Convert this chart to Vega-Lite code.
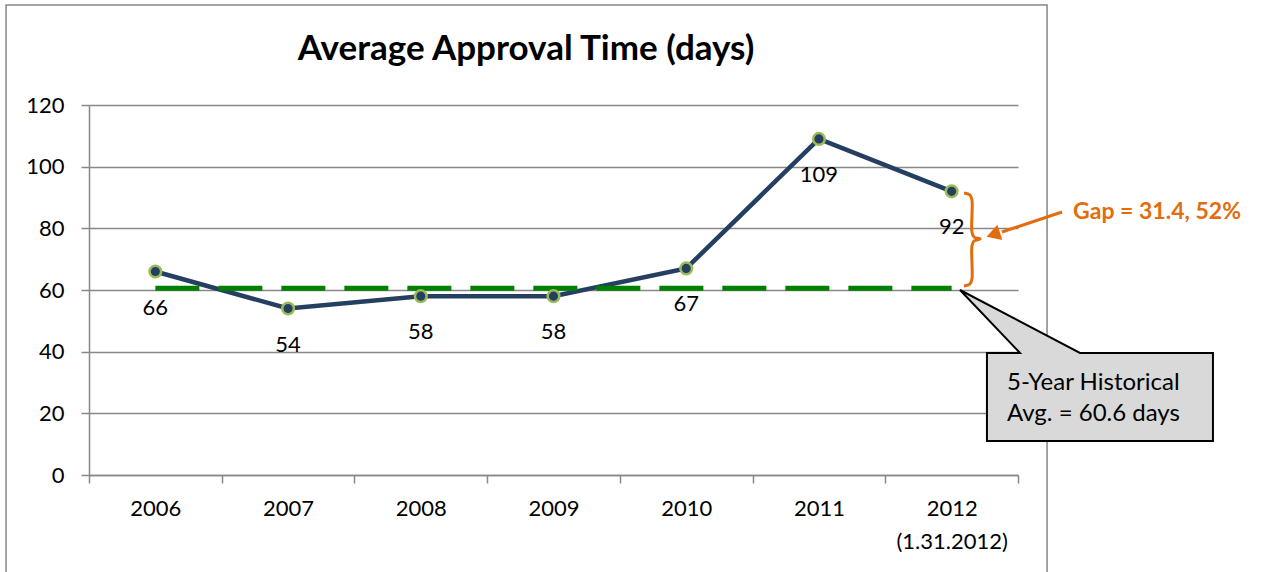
{
  "$schema": "https://vega.github.io/schema/vega-lite/v6.json",
  "width": 929,
  "height": 370,
  "autosize": {"type": "none"},
  "padding": {"left": 89, "top": 105, "right": 265, "bottom": 97},
  "background": "white",
  "view": {"stroke": null},
  "config": {"font": "Lato"},
  "resolve": {"scale": {"x": "independent"}},
  "layer": [
    {
      "data": {"values": [{"x1": -0.625, "x2": 7.219, "y1": 152.4, "y2": -40}]},
      "mark": {"type": "rect", "fill": "transparent", "stroke": "#868686", "strokeWidth": 1.5},
      "encoding": {
        "x": {"field": "x1", "type": "quantitative", "scale": {"domain": [0, 7], "nice": false, "zero": false}, "axis": null},
        "x2": {"field": "x2"},
        "y": {"field": "y1", "type": "quantitative", "scale": {"domain": [0, 120], "nice": false}, "title": null},
        "y2": {"field": "y2"}
      }
    },
    {
      "data": {
        "values": [
          {"year": "2006", "days": 66, "avg": 60.6},
          {"year": "2007", "days": 54, "avg": 60.6},
          {"year": "2008", "days": 58, "avg": 60.6},
          {"year": "2009", "days": 58, "avg": 60.6},
          {"year": "2010", "days": 67, "avg": 60.6},
          {"year": "2011", "days": 109, "avg": 60.6},
          {"year": "2012", "days": 92, "avg": 60.6}
        ]
      },
      "encoding": {
        "x": {
          "field": "year",
          "type": "ordinal",
          "bandPosition": 0.5,
          "scale": {"type": "band", "paddingInner": 0, "paddingOuter": 0},
          "axis": {
            "title": null,
            "tickBand": "extent",
            "grid": false,
            "domainColor": "#888888",
            "domainWidth": 1.5,
            "tickColor": "#888888",
            "tickWidth": 1.5,
            "tickSize": 8,
            "labelFontSize": 22,
            "labelFont": "Lato",
            "labelColor": "black",
            "labelAngle": 0,
            "labelPadding": 15,
            "labelLineHeight": 33,
            "labelExpr": "datum.value == '2012' ? ['2012', '(1.31.2012)'] : datum.label"
          }
        },
        "y": {
          "field": "days",
          "type": "quantitative",
          "title": null,
          "scale": {"domain": [0, 120], "nice": false},
          "axis": {
            "values": [0, 20, 40, 60, 80, 100, 120],
            "grid": true,
            "gridColor": "#888888",
            "gridWidth": 1.5,
            "domainColor": "#888888",
            "domainWidth": 1.5,
            "tickColor": "#888888",
            "tickWidth": 1.5,
            "tickSize": 8,
            "labelFontSize": 22,
            "labelFont": "Lato",
            "labelColor": "black",
            "labelPadding": 17
          }
        }
      },
      "layer": [
        {"mark": {"type": "line", "color": "#243F60", "strokeWidth": 4.5}},
        {
          "mark": {"type": "line", "color": "#008000", "strokeWidth": 5, "strokeDash": [44, 19]},
          "encoding": {
            "y": {"field": "avg", "type": "quantitative", "title": null, "scale": {"domain": [0, 120], "nice": false}}
          }
        },
        {"mark": {"type": "point", "filled": true, "size": 135, "fill": "#243F60", "stroke": "#9BBB59", "strokeWidth": 2.5, "opacity": 1}},
        {
          "mark": {"type": "text", "dy": 36, "fontSize": 22, "font": "Lato", "color": "black"},
          "encoding": {"text": {"field": "days", "type": "quantitative"}}
        }
      ]
    },
    {
      "layer": [
        {
          "data": {"values": [{"x": 3.293, "y": 134.6, "label": "Average Approval Time (days)"}]},
          "mark": {"type": "text", "align": "center", "baseline": "alphabetic", "font": "Lato", "fontSize": 35, "fontWeight": "bold", "color": "black"},
          "encoding": {
            "x": {"field": "x", "type": "quantitative", "scale": {"domain": [0, 7], "nice": false, "zero": false}, "axis": null},
            "y": {"field": "y", "type": "quantitative", "scale": {"domain": [0, 120], "nice": false}, "title": null},
            "text": {"field": "label"}
          }
        },
        {
          "data": {
            "values": [
              {"i": 1, "x": 6.593, "y": 91.46},
              {"i": 2, "x": 6.638, "y": 90.81},
              {"i": 3, "x": 6.653, "y": 89.19},
              {"i": 4, "x": 6.653, "y": 78.81},
              {"i": 5, "x": 6.668, "y": 77.19},
              {"i": 6, "x": 6.714, "y": 76.54},
              {"i": 7, "x": 6.668, "y": 75.89},
              {"i": 8, "x": 6.653, "y": 74.27},
              {"i": 9, "x": 6.653, "y": 63.57},
              {"i": 10, "x": 6.638, "y": 61.95},
              {"i": 11, "x": 6.593, "y": 61.3}
            ]
          },
          "mark": {"type": "line", "color": "#E46C0A", "strokeWidth": 3, "interpolate": "catmull-rom"},
          "encoding": {
            "x": {"field": "x", "type": "quantitative", "scale": {"domain": [0, 7], "nice": false, "zero": false}, "axis": null},
            "y": {"field": "y", "type": "quantitative", "scale": {"domain": [0, 120], "nice": false}, "title": null},
            "order": {"field": "i"}
          }
        },
        {
          "data": {
            "values": [
              {"i": 1, "x": 7.332, "y": 85.3},
              {"i": 2, "x": 6.879, "y": 78.81}
            ]
          },
          "mark": {"type": "line", "color": "#E46C0A", "strokeWidth": 3},
          "encoding": {
            "x": {"field": "x", "type": "quantitative", "scale": {"domain": [0, 7], "nice": false, "zero": false}, "axis": null},
            "y": {"field": "y", "type": "quantitative", "scale": {"domain": [0, 120], "nice": false}, "title": null},
            "order": {"field": "i"}
          }
        },
        {
          "data": {"values": [{"x": 6.83, "y": 78.2}]},
          "mark": {"type": "point", "shape": "triangle", "filled": true, "color": "#E46C0A", "size": 260, "angle": 252, "opacity": 1},
          "encoding": {
            "x": {"field": "x", "type": "quantitative", "scale": {"domain": [0, 7], "nice": false, "zero": false}, "axis": null},
            "y": {"field": "y", "type": "quantitative", "scale": {"domain": [0, 120], "nice": false}, "title": null}
          }
        },
        {
          "data": {"values": [{"x": 7.415, "y": 85.3, "label": "Gap = 31.4, 52%"}]},
          "mark": {"type": "text", "align": "left", "baseline": "middle", "font": "Lato", "fontSize": 23, "fontWeight": "bold", "color": "#E46C0A"},
          "encoding": {
            "x": {"field": "x", "type": "quantitative", "scale": {"domain": [0, 7], "nice": false, "zero": false}, "axis": null},
            "y": {"field": "y", "type": "quantitative", "scale": {"domain": [0, 120], "nice": false}, "title": null},
            "text": {"field": "label"}
          }
        },
        {
          "data": {
            "values": [
              {"i": 1, "x": 6.766, "y": 39.57},
              {"i": 2, "x": 7.015, "y": 39.57},
              {"i": 3, "x": 6.563, "y": 60.0},
              {"i": 4, "x": 7.467, "y": 39.57},
              {"i": 5, "x": 8.469, "y": 39.57},
              {"i": 6, "x": 8.469, "y": 11.03},
              {"i": 7, "x": 6.766, "y": 11.03}
            ]
          },
          "mark": {"type": "line", "interpolate": "linear-closed", "fill": "#D9D9D9", "stroke": "black", "strokeWidth": 2, "strokeJoin": "miter"},
          "encoding": {
            "x": {"field": "x", "type": "quantitative", "scale": {"domain": [0, 7], "nice": false, "zero": false}, "axis": null},
            "y": {"field": "y", "type": "quantitative", "scale": {"domain": [0, 120], "nice": false}, "title": null},
            "order": {"field": "i"}
          }
        },
        {
          "data": {
            "values": [
              {"x": 6.917, "y": 29.84, "label": "5-Year Historical"},
              {"x": 6.917, "y": 19.78, "label": "Avg. = 60.6 days"}
            ]
          },
          "mark": {"type": "text", "align": "left", "baseline": "middle", "font": "Lato", "fontSize": 24, "color": "black"},
          "encoding": {
            "x": {"field": "x", "type": "quantitative", "scale": {"domain": [0, 7], "nice": false, "zero": false}, "axis": null},
            "y": {"field": "y", "type": "quantitative", "scale": {"domain": [0, 120], "nice": false}, "title": null},
            "text": {"field": "label"}
          }
        }
      ]
    }
  ]
}
